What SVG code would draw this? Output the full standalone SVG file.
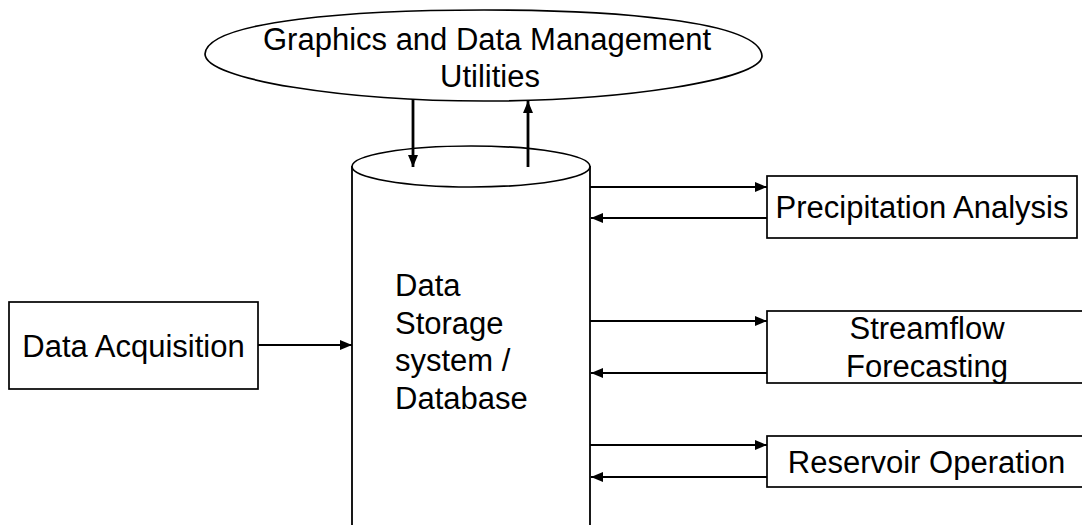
<svg xmlns="http://www.w3.org/2000/svg" width="1082" height="525" viewBox="0 0 1082 525">
  <style>
    .shape { fill: #ffffff; stroke: #000000; stroke-width: 1.7; }
    .edge { fill: none; stroke: #000000; stroke-width: 1.8; }
    .label { font-family: "Liberation Sans", Arial, sans-serif; font-size: 31px; fill: #000000; }
    .mid { text-anchor: middle; }
    .link { stroke: #000000; stroke-width: 2.2; fill: none; }
    .link.thick { stroke-width: 2.8; }
  </style>
  <defs>
    <marker id="head" viewBox="0 0 12 10" refX="12" refY="5" markerWidth="12" markerHeight="10" markerUnits="userSpaceOnUse" orient="auto">
      <path d="M0,0 L12,5 L0,10 Z" fill="#000000"/>
    </marker>
  </defs>
  <rect width="1082" height="525" fill="#ffffff"/>

  <!-- utilities oval -->
  <g id="utilities">
    <path class="shape" d="M205,54 C207,20 360,10 484,10 C608,10 760,20 762,56 C762,80 620,101 484,101 C348,101 205,80 205,54 Z"/>
    <text class="label mid" x="487" y="50">Graphics and Data Management</text>
    <text class="label mid" x="490" y="87">Utilities</text>
  </g>

  <!-- database cylinder, open at the bottom -->
  <g id="database">
    <path class="edge" d="M352,166 L352,525 M590,166 L590,525"/>
    <ellipse class="shape" cx="471" cy="166.5" rx="119" ry="20.5"/>
    <text class="label" x="395" y="296">Data</text>
    <text class="label" x="395" y="333.5">Storage</text>
    <text class="label" x="395" y="371">system /</text>
    <text class="label" x="395" y="408.5">Database</text>
  </g>

  <g id="acquisition">
    <rect class="shape" x="9" y="302" width="249" height="87"/>
    <text class="label mid" x="133.5" y="357">Data Acquisition</text>
  </g>

  <g id="precipitation">
    <rect class="shape" x="767" y="176" width="310" height="62"/>
    <text class="label mid" x="922" y="218">Precipitation Analysis</text>
  </g>

  <g id="streamflow">
    <rect class="shape" x="767" y="311" width="320" height="72"/>
    <text class="label mid" x="927" y="339">Streamflow</text>
    <text class="label mid" x="927" y="376.5">Forecasting</text>
  </g>

  <g id="reservoir">
    <rect class="shape" x="767" y="436" width="320" height="51"/>
    <text class="label mid" x="926.5" y="473">Reservoir Operation</text>
  </g>

  <g id="connectors">
    <line class="link thick" x1="413" y1="99" x2="413" y2="167" marker-end="url(#head)"/>
    <line class="link thick" x1="528" y1="167" x2="528" y2="101" marker-end="url(#head)"/>
    <line class="link" x1="258" y1="345" x2="352" y2="345" marker-end="url(#head)"/>
    <line class="link" x1="590" y1="187" x2="767" y2="187" marker-end="url(#head)"/>
    <line class="link" x1="767" y1="218" x2="591" y2="218" marker-end="url(#head)"/>
    <line class="link" x1="590" y1="321" x2="767" y2="321" marker-end="url(#head)"/>
    <line class="link" x1="767" y1="373" x2="591" y2="373" marker-end="url(#head)"/>
    <line class="link" x1="590" y1="445" x2="767" y2="445" marker-end="url(#head)"/>
    <line class="link" x1="767" y1="477" x2="591" y2="477" marker-end="url(#head)"/>
  </g>
</svg>
